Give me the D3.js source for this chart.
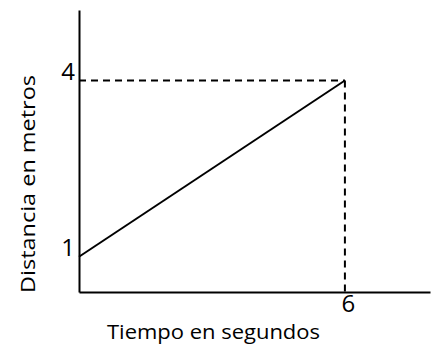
<!DOCTYPE html>
<html>
<head>
<meta charset="utf-8">
<script src="https://cdn.jsdelivr.net/npm/d3@7"></script>
<style>
  html, body { margin: 0; padding: 0; background: #fff; }
  svg { display: block; }
  text { font-family: "Open Sans", "DejaVu Sans", sans-serif; fill: #000; }
</style>
</head>
<body>
<svg id="chart" width="431" height="347"></svg>
<script>
// ---- data ----
const lineX = [0, 6];          // tiempo (s)
const lineY = [1, 4];          // distancia (m)
const xTickValues = [6];
const yTickValues = [1, 4];
const xTitle = "Tiempo en segundos";
const yTitle = "Distancia en metros";
const xExtent = [0, 7.92];     // axis drawn range
const yExtent = [0.4, 5.2];

const svg = d3.select("#chart");
const x = d3.scaleLinear().domain(xExtent).range([79, 430]);
const y = d3.scaleLinear().domain(yExtent).range([292, 10]);

// dashed guides
const px = x(lineX[1]), py = y(lineY[1]);
svg.append("line")
  .attr("x1", x(xExtent[0])).attr("x2", px)
  .attr("y1", py).attr("y2", py)
  .attr("stroke", "#000").attr("stroke-width", 2).attr("stroke-dasharray", "7,5");
svg.append("line")
  .attr("x1", px).attr("x2", px)
  .attr("y1", py).attr("y2", y(yExtent[0]))
  .attr("stroke", "#000").attr("stroke-width", 2).attr("stroke-dasharray", "7,5");

// data line
svg.append("path")
  .datum(lineX.map((d, i) => [d, lineY[i]]))
  .attr("fill", "none").attr("stroke", "#000").attr("stroke-width", 2)
  .attr("d", d3.line().x(d => x(d[0])).y(d => y(d[1])));

// axes
const yAxis = svg.append("g").attr("transform", `translate(${x(xExtent[0])},0)`)
  .call(d3.axisLeft(y).tickValues(yTickValues).tickSize(0).tickSizeOuter(0).tickPadding(4).tickFormat(d3.format("d")));
yAxis.select(".domain").attr("stroke", "#000").attr("stroke-width", 2);
yAxis.selectAll(".tick text").attr("font-size", 24).attr("dy", "-0.05em")
  .style("font-family", '"Open Sans", sans-serif').attr("fill", "#000");

const xAxis = svg.append("g").attr("transform", `translate(0,${y(yExtent[0])})`)
  .call(d3.axisBottom(x).tickValues(xTickValues).tickSize(0).tickSizeOuter(0).tickPadding(3).tickFormat(d3.format("d")));
xAxis.select(".domain").attr("stroke", "#000").attr("stroke-width", 2);
xAxis.selectAll(".tick text").attr("font-size", 24).attr("dx", 3)
  .style("font-family", '"Open Sans", sans-serif').attr("fill", "#000");

// titles
svg.append("text").attr("x", 213.5).attr("y", 339)
  .attr("text-anchor", "middle").attr("font-size", 20)
  .attr("textLength", 213).attr("lengthAdjust", "spacingAndGlyphs")
  .text(xTitle);
svg.append("text").attr("transform", "translate(35,184) rotate(-90)")
  .attr("text-anchor", "middle").attr("font-size", 20)
  .attr("textLength", 218).attr("lengthAdjust", "spacingAndGlyphs")
  .text(yTitle);
</script>
</body>
</html>
